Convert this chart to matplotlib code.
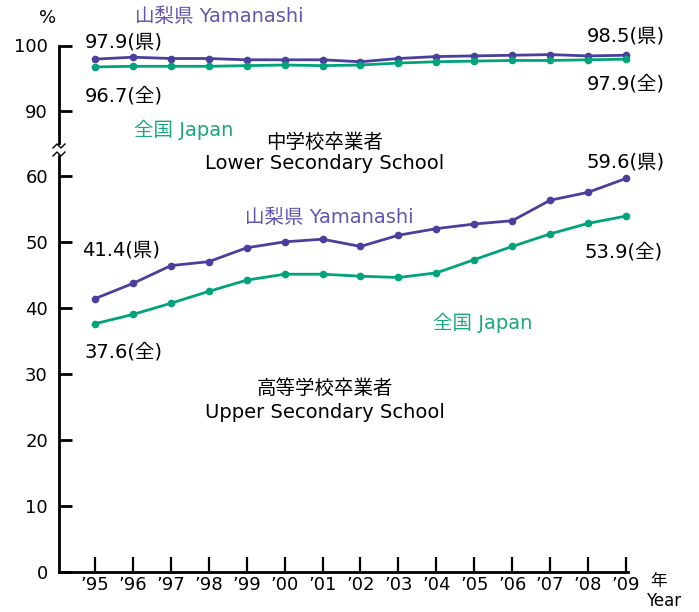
import matplotlib.pyplot as plt
from matplotlib.lines import Line2D

plt.rcParams["font.family"] = ["DejaVu Sans", "Noto Sans CJK JP"]

years = list(range(1995, 2010))
year_labels = ["’95", "’96", "’97", "’98", "’99", "’00", "’01", "’02",
               "’03", "’04", "’05", "’06", "’07", "’08", "’09"]

# Upper secondary enrolment (lower secondary graduates)
lower_yamanashi = [97.9, 98.2, 98.0, 98.0, 97.8, 97.8, 97.8, 97.5,
                   98.0, 98.3, 98.4, 98.5, 98.6, 98.4, 98.5]
lower_japan = [96.7, 96.8, 96.8, 96.8, 96.9, 97.0, 96.9, 97.0,
               97.3, 97.5, 97.6, 97.7, 97.7, 97.8, 97.9]

# Higher education enrolment (upper secondary graduates)
upper_yamanashi = [41.4, 43.7, 46.4, 47.0, 49.1, 50.0, 50.4, 49.3,
                   51.0, 52.0, 52.7, 53.2, 56.3, 57.5, 59.6]
upper_japan = [37.6, 39.0, 40.7, 42.5, 44.2, 45.1, 45.1, 44.8,
               44.6, 45.3, 47.3, 49.3, 51.2, 52.8, 53.9]

PURPLE = "#4a3f9c"
PURPLE_TXT = "#6257b0"
GREEN = "#00a37a"
GREEN_TXT = "#1aa67e"

W, H = 699, 612
fig = plt.figure(figsize=(W / 100, H / 100), dpi=100)


def fx(px):
    return px / W


def fy(py):
    return 1 - py / H


left, right = 59, 628
ax_top = fig.add_axes([fx(left), fy(143), fx(right - left), (143 - 45.5) / H])
ax_bot = fig.add_axes([fx(left), fy(572), fx(right - left), (572 - 156) / H])

xlim = (1995 - 36 / 37.93, 2009 + 2 / 37.93)
for ax in (ax_top, ax_bot):
    ax.set_xlim(*xlim)
    ax.set_facecolor("none")
    for s in ("top", "right"):
        ax.spines[s].set_visible(False)
    ax.spines["left"].set_linewidth(2.0)
    ax.tick_params(axis="y", direction="in", length=9, width=2.0,
                   labelsize=13, pad=8)

ax_top.set_ylim(85, 100)
ax_top.set_yticks([90, 100])
ax_top.spines["bottom"].set_visible(False)
ax_top.set_xticks([])

ax_bot.set_ylim(0, 63)
ax_bot.set_yticks([0, 10, 20, 30, 40, 50, 60])
ax_bot.spines["bottom"].set_linewidth(2.0)
ax_bot.set_xticks(years)
ax_bot.set_xticklabels(year_labels)
ax_bot.tick_params(axis="x", direction="in", length=11, width=1.6,
                   labelsize=13, pad=3)

line_kw = dict(linewidth=2.0, marker="o", markersize=4.5, clip_on=False)
ax_top.plot(years, lower_yamanashi, color=PURPLE, **line_kw)
ax_top.plot(years, lower_japan, color=GREEN, **line_kw)
ax_bot.plot(years, upper_yamanashi, color=PURPLE, **line_kw)
ax_bot.plot(years, upper_japan, color=GREEN, **line_kw)

# axis break marks
for dy in (-4, 4):
    xs = [fx(left - 6), fx(left - 2), fx(left + 2), fx(left + 6)]
    ys = [fy(150 + dy + 2), fy(150 + dy - 2), fy(150 + dy + 2), fy(150 + dy - 2)]
    fig.add_artist(Line2D(xs, ys, color="black", linewidth=1.0))

fs = 14
fig.text(fx(48), fy(18), "%", ha="center", va="center", fontsize=13)
fig.text(fx(659), fy(581), "年", ha="center", va="center", fontsize=12)
fig.text(fx(681), fy(601), "Year", ha="right", va="center", fontsize=12)

fig.text(fx(135), fy(16), "山梨県 Yamanashi", color=PURPLE_TXT,
         ha="left", va="center", fontsize=fs)
fig.text(fx(85), fy(42), "97.9(県)", ha="left", va="center", fontsize=fs)
fig.text(fx(85), fy(96), "96.7(全)", ha="left", va="center", fontsize=fs)
fig.text(fx(134), fy(130), "全国 Japan", color=GREEN_TXT,
         ha="left", va="center", fontsize=fs)
fig.text(fx(325), fy(142), "中学校卒業者", ha="center", va="center", fontsize=fs)
fig.text(fx(325), fy(164), "Lower Secondary School", ha="center",
         va="center", fontsize=fs)
fig.text(fx(665), fy(36), "98.5(県)", ha="right", va="center", fontsize=fs)
fig.text(fx(665), fy(84), "97.9(全)", ha="right", va="center", fontsize=fs)

fig.text(fx(665), fy(162), "59.6(県)", ha="right", va="center", fontsize=fs)
fig.text(fx(245), fy(217), "山梨県 Yamanashi", color=PURPLE_TXT,
         ha="left", va="center", fontsize=fs)
fig.text(fx(82), fy(250), "41.4(県)", ha="left", va="center", fontsize=fs)
fig.text(fx(663), fy(252), "53.9(全)", ha="right", va="center", fontsize=fs)
fig.text(fx(433), fy(323), "全国 Japan", color=GREEN_TXT,
         ha="left", va="center", fontsize=fs)
fig.text(fx(85), fy(352), "37.6(全)", ha="left", va="center", fontsize=fs)
fig.text(fx(325), fy(388), "高等学校卒業者", ha="center", va="center", fontsize=fs)
fig.text(fx(325), fy(412), "Upper Secondary School", ha="center",
         va="center", fontsize=fs)

fig.savefig("out.png", dpi=100)
